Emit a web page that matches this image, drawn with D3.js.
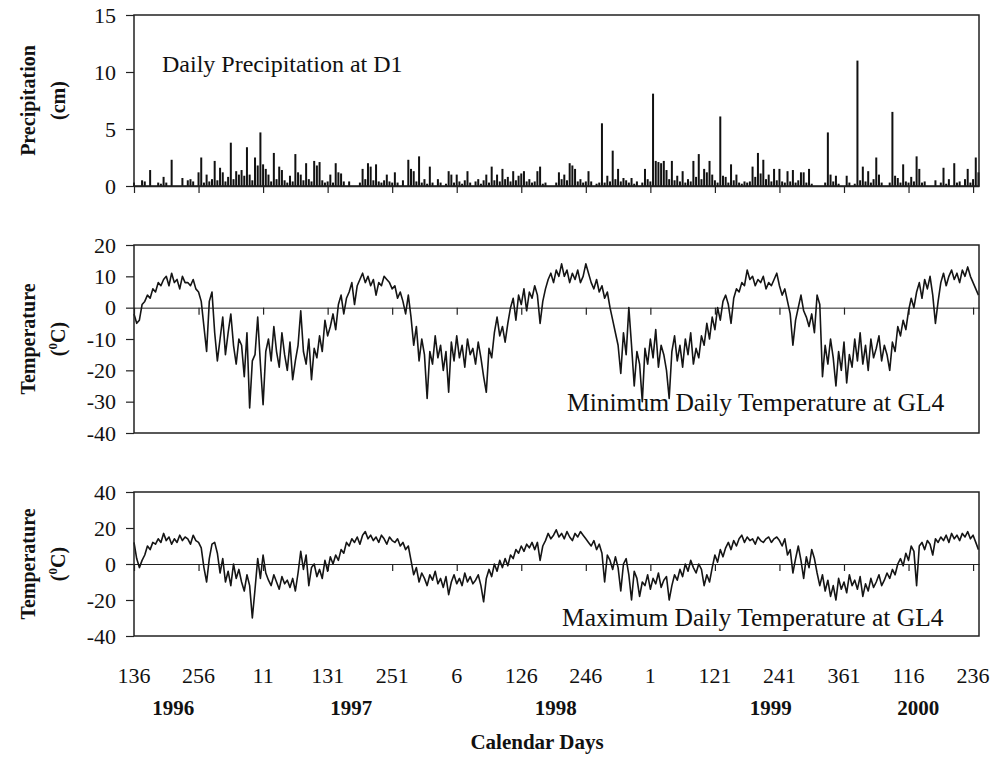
<!DOCTYPE html>
<html>
<head>
<meta charset="utf-8">
<script src="https://cdn.jsdelivr.net/npm/d3@7"></script>
<style>
body { margin: 0; background: #fff; }
text { font-family: "Liberation Serif", "Times New Roman", serif; fill: #111; }
</style>
</head>
<body>
<div id="chart"></div>
<script>
// one value per 5-day step, starting at calendar day 136 of 1996
var STEP_DAYS = 5;

var precip_cm = [
	0.3, 0, 0, 0.5, 0.4, 0, 1.4, 0, 0, 0.3,
	0.2, 0.8, 0.3, 0, 2.3, 0, 0, 0, 0.7, 0,
	0.5, 0.6, 0.4, 0, 1.2, 2.5, 0.3, 1.0, 0.4, 0.6,
	2.2, 0.5, 1.6, 1.2, 0.4, 0.8, 3.8, 0.6, 1.3, 1.0,
	1.4, 0.9, 3.4, 1.0, 0.5, 2.5, 1.8, 4.7, 1.9, 1.5,
	1.0, 0.4, 2.9, 0.6, 1.7, 1.4, 0.5, 0.3, 0.9, 0.4,
	2.8, 1.2, 1.0, 0.5, 2.0, 0.6, 0.4, 2.2, 1.8, 2.1,
	0.5, 0.3, 0.4, 1.0, 0.3, 2.0, 1.2, 1.1, 0.4, 0,
	0.4, 0, 0, 0, 0.3, 1.5, 0.6, 2.0, 1.7, 0.5,
	1.9, 0.4, 0.3, 0.5, 1.0, 0.4, 0.3, 1.2, 0.3, 0,
	0.5, 0, 2.3, 1.5, 1.3, 0.4, 2.6, 0.3, 0.6, 0.2,
	1.7, 0.3, 0, 0.6, 0.3, 0, 0.2, 1.3, 1.0, 0.3,
	1.0, 0.4, 0.2, 0.5, 1.3, 0.3, 0, 0.4, 0.6, 0.2,
	0.5, 1.0, 0.3, 1.7, 0.5, 1.0, 0.4, 1.5, 0.6, 0.8,
	0.4, 1.3, 0.5, 0.9, 1.1, 1.3, 0.4, 0.6, 0.3, 0.4,
	1.3, 1.7, 0.2, 0.3, 0, 0, 0, 0.3, 1.2, 0.6,
	1.0, 0.5, 2.0, 1.8, 1.5, 0.4, 0.6, 0.3, 0.4, 1.3,
	0.4, 0, 0.2, 0.3, 5.5, 0.3, 0.9, 0.4, 3.1, 0.6,
	1.5, 0.4, 0.7, 0.5, 0.3, 0.7, 0.2, 0.4, 0, 0.3,
	1.5, 0.6, 0.4, 8.1, 2.2, 2.1, 2.0, 2.2, 1.4, 0.6,
	2.2, 0.5, 0.9, 0.4, 1.3, 0.3, 0.6, 0.4, 2.2, 0.8,
	2.8, 0.6, 1.5, 1.2, 2.2, 1.0, 0.5, 0.3, 6.1, 0.9,
	0.8, 0.3, 1.9, 0.5, 1.0, 0.3, 0.2, 0.4, 0.3, 0.4,
	1.7, 0.8, 2.9, 1.1, 2.3, 0.6, 1.0, 0.4, 1.5, 0.5,
	1.5, 0.4, 0.3, 1.3, 0.4, 1.4, 0.3, 0.5, 1.2, 1.2,
	0.3, 1.5, 0.2, 0, 0, 0, 0, 0.3, 4.7, 1.0,
	0.4, 0.9, 0.2, 0, 0, 0.9, 0.3, 0, 0.2, 11.0,
	0.5, 1.7, 0.4, 1.3, 0.3, 0.6, 2.5, 1.0, 0.3, 0,
	0, 0.3, 6.5, 0.9, 0.7, 0.3, 1.9, 0.4, 0.3, 0.8,
	0.4, 2.6, 1.5, 0.3, 0.4, 0, 0, 0, 0.5, 0,
	0.3, 1.6, 0.2, 0.6, 0, 2.0, 0.3, 0.4, 0, 0.6,
	1.5, 0.3, 0.6, 2.5, 1.2
];

var min_temp_c = [
	-2, -5, -4, 1, 2, 4, 3, 6, 5, 8,
	7, 9, 10, 7, 11, 8, 9, 6, 10, 8,
	8, 7, 9, 6, 5, 2, -6, -14, 2, 5,
	-8, -17, -10, -3, -15, -8, -2, -12, -18, -10,
	-12, -22, -8, -32, -17, -15, -3, -18, -31, -14,
	-10, -17, -6, -14, -19, -8, -15, -20, -11, -23,
	-17, -12, -1, -14, -18, -10, -23, -13, -16, -9,
	-14, -4, -9, -6, -2, -7, 1, 4, -2, 3,
	5, 8, 1, 7, 9, 11, 8, 10, 7, 9,
	4, 8, 7, 10, 9, 8, 6, 7, 3, 5,
	2, -2, 4, -3, -12, -6, -17, -10, -15, -29,
	-14, -18, -9, -16, -12, -20, -14, -27, -11, -17,
	-9, -16, -12, -19, -10, -15, -13, -18, -11, -16,
	-22, -27, -13, -16, -8, -3, -9, -6, -11, -5,
	0, 3, -4, 4, 1, 6, -1, 5, 3, 7,
	4, -5, 2, 6, 9, 11, 8, 12, 10, 14,
	10, 12, 8, 11, 9, 12, 8, 10, 14, 11,
	8, 6, 9, 5, 7, 3, 5, 0, -4, -8,
	-12, -21, -8, -15, 0, -12, -25, -14, -18, -30,
	-13, -18, -10, -16, -7, -19, -12, -15, -20, -29,
	-14, -9, -17, -12, -19, -10, -15, -8, -18, -13,
	-16, -9, -12, -5, -10, -3, -7, 0, -4, 2,
	4, 1, -5, 3, 6, 5, 8, 7, 12, 9,
	10, 7, 9, 8, 10, 6, 8, 7, 9, 11,
	7, 4, 6, 2, -2, -12, -4, 0, 4, -1,
	-3, -6, -2, -8, 4, 1, -22, -12, -18, -10,
	-16, -25, -14, -20, -11, -24, -15, -19, -10, -17,
	-8, -18, -12, -20, -10, -16, -13, -9, -17, -12,
	-15, -20, -11, -14, -6, -9, -4, -7, -1, 3,
	0, 5, 8, 3, 9, 6, 10, 4, -5, 2,
	8, 11, 7, 10, 12, 9, 11, 8, 12, 10,
	13, 10, 8, 6, 4
];

var max_temp_c = [
	12, 3, -2, 2, 5, 10, 8, 12, 11, 14,
	12, 17, 13, 15, 11, 14, 12, 16, 13, 15,
	14, 11, 16, 13, 12, 9, -2, -10, 3, 11,
	12, 6, -5, 3, -10, -4, -12, 0, -8, -3,
	-10, -15, -6, -12, -30, -14, 3, -8, 5, -5,
	-9, -12, -6, -10, -14, -7, -11, -9, -13, -8,
	-15, -5, 7, -3, 5, -12, -2, 0, -7, -3,
	-8, 2, -4, 4, 0, 5, 2, 8, 6, 12,
	10, 14, 12, 15, 11, 16, 18, 14, 16, 13,
	15, 12, 16, 14, 11, 15, 13, 12, 14, 10,
	12, 8, 10, 2, -6, -2, -10, -5, -8, -12,
	-6, -9, -4, -11, -8, -13, -7, -17, -10, -6,
	-11, -8, -12, -5, -10, -7, -11, -9, -6, -12,
	-21, -8, -3, -7, 0, -4, 2, -2, 3, -1,
	5, 3, 8, 6, 10, 7, 11, 9, 12, 8,
	12, 2, 10, 13, 17, 14, 16, 19, 15, 17,
	14, 18, 15, 13, 17, 15, 18, 16, 14, 12,
	10, 13, 8, 11, 6, -10, 5, 2, -3, 4,
	-2, -15, 0, 3, -6, -20, -4, -8, -18, -10,
	-12, -6, -14, -8, -11, -5, -13, -9, -7, -20,
	-12, -6, -9, -3, -7, 0, -4, 2, -2, -5,
	0, -3, -12, -6, -10, -2, 5, 1, 8, 4,
	9, 12, 8, 13, 10, 14, 16, 12, 15, 13,
	14, 11, 15, 13, 12, 14, 15, 12, 14, 15,
	13, 10, 14, 5, 8, -5, 3, 10, 2, -8,
	4, -2, 8, 3, -5, -12, -6, -15, -9, -18,
	-12, -20, -8, -14, -10, -16, -6, -12, -9, -14,
	-7, -18, -11, -15, -8, -13, -10, -6, -12, -9,
	-5, -8, -3, -6, 0, 3, -1, 6, 2, 10,
	7, -12, 10, 12, 8, 13, 11, 5, 14, 12,
	15, 13, 16, 12, 17, 14, 16, 13, 17, 15,
	18, 14, 16, 12, 8
];

// x axis: days counted from day 136 of 1996, a tick every 120 days
var tick_days = [0, 120, 240, 360, 480, 600, 720, 840, 960, 1080, 1200, 1320, 1440, 1560];
var tick_labels = ["136", "256", "11", "131", "251", "6", "126", "246", "1", "121", "241", "361", "116", "236"];
var year_labels = ["1996", "1997", "1998", "1999", "2000"];
var year_days = [73, 404, 784, 1184, 1458];
var last_day = 1571;

var precip_ticks = [0, 5, 10, 15];
var tmin_ticks = [-40, -30, -20, -10, 0, 10, 20];
var tmax_ticks = [-40, -20, 0, 20, 40];

var SERIF = '"Liberation Serif", "Times New Roman", serif';

var width = 995,
	height = 757;

var svg = d3.select("#chart").append("svg")
	.attr("width", width)
	.attr("height", height)
	.attr("font-family", SERIF);

var x = d3.scaleLinear().domain([0, last_day]).range([134, 979]);

var panels = [
	{ top: 15, bottom: 186, domain: [0, 15], ticks: precip_ticks, title: "Precipitation", unit: "(cm)",
		note: "Daily Precipitation at D1", noteX: 162, noteY: 72, noteSize: 24 },
	{ top: 245, bottom: 433, domain: [-40, 20], ticks: tmin_ticks, title: "Temperature", unit: "C",
		note: "Minimum Daily Temperature at GL4", noteX: 567, noteY: 411, noteSize: 25.5, series: min_temp_c },
	{ top: 492, bottom: 636, domain: [-40, 40], ticks: tmax_ticks, title: "Temperature", unit: "C",
		note: "Maximum Daily Temperature at GL4", noteX: 562, noteY: 626, noteSize: 25.5, series: max_temp_c }
];

panels.forEach(function(p, k) {
	var y = d3.scaleLinear().domain(p.domain).range([p.bottom, p.top]);
	var g = svg.append("g").attr("class", "panel");

	// y axis, ticks pointing out to the left
	var yAxis = g.append("g")
		.attr("transform", "translate(" + x.range()[0] + ",0)")
		.call(d3.axisLeft(y).tickValues(p.ticks).tickSize(8).tickPadding(10).tickFormat(d3.format("d")));
	yAxis.attr("font-family", SERIF).attr("font-size", 22);
	yAxis.select(".domain").remove();
	yAxis.selectAll(".tick line").attr("stroke", "#222").attr("stroke-width", 1.2);
	yAxis.selectAll(".tick text")
		.attr("fill", "#111")
		.text(function(d) { return d < 0 ? "-" + Math.abs(d) : d; });

	// x axis drawn where y = 0
	var xAxis = g.append("g")
		.attr("transform", "translate(0," + y(0) + ")")
		.call(d3.axisBottom(x).tickValues(tick_days).tickSize(7).tickSizeOuter(0).tickFormat(""));
	xAxis.select(".domain").attr("stroke", "#222").attr("stroke-width", k == 0 ? 1.6 : 1);
	xAxis.selectAll(".tick line").attr("stroke", "#222").attr("stroke-width", 1.2);

	if (k == 0) {
		g.selectAll("rect.bar")
			.data(precip_cm)
			.enter()
			.append("rect")
			.attr("class", "bar")
			.attr("x", function(d, i) { return x(i * STEP_DAYS) - 1; })
			.attr("width", 2)
			.attr("y", function(d) { return y(d); })
			.attr("height", function(d) { return y(0) - y(d); })
			.attr("fill", "#111");
	} else {
		var line = d3.line()
			.x(function(d, i) { return x(i * STEP_DAYS); })
			.y(function(d) { return y(d); });
		g.append("path")
			.datum(p.series)
			.attr("d", line)
			.attr("fill", "none")
			.attr("stroke", "#151515")
			.attr("stroke-width", 1.6)
			.attr("stroke-linejoin", "round");
	}

	// frame
	g.append("rect")
		.attr("x", x.range()[0])
		.attr("y", p.top)
		.attr("width", x.range()[1] - x.range()[0])
		.attr("height", p.bottom - p.top)
		.attr("fill", "none")
		.attr("stroke", "#222")
		.attr("stroke-width", 1.5);

	g.append("text")
		.attr("x", p.noteX)
		.attr("y", p.noteY)
		.attr("font-size", p.noteSize)
		.text(p.note);

	// rotated axis title, two lines
	var mid = (p.top + p.bottom) / 2;
	g.append("text")
		.attr("transform", "translate(35," + mid + ") rotate(-90)")
		.attr("text-anchor", "middle")
		.attr("font-size", 20)
		.attr("font-weight", "bold")
		.text(p.title);
	var unit = g.append("text")
		.attr("transform", "translate(65," + mid + ") rotate(-90)")
		.attr("text-anchor", "middle")
		.attr("font-size", 20)
		.attr("font-weight", "bold");
	if (p.unit == "C") {
		unit.append("tspan").text("(");
		unit.append("tspan").attr("dy", -8).attr("font-size", 13).text("0");
		unit.append("tspan").attr("dy", 8).text("C)");
	} else {
		unit.text(p.unit);
	}
});

// calendar day labels under the last panel
svg.selectAll("text.daylabel")
	.data(tick_days)
	.enter()
	.append("text")
	.attr("class", "daylabel")
	.attr("x", function(d) { return x(d); })
	.attr("y", 683)
	.attr("text-anchor", "middle")
	.attr("font-size", 22)
	.text(function(d, i) { return tick_labels[i]; });

svg.selectAll("text.year")
	.data(year_days)
	.enter()
	.append("text")
	.attr("class", "year")
	.attr("x", function(d) { return x(d); })
	.attr("y", 715)
	.attr("text-anchor", "middle")
	.attr("font-size", 21)
	.attr("font-weight", "bold")
	.text(function(d, i) { return year_labels[i]; });

svg.append("text")
	.attr("x", 537)
	.attr("y", 749)
	.attr("text-anchor", "middle")
	.attr("font-size", 21)
	.attr("font-weight", "bold")
	.text("Calendar Days");
</script>
</body>
</html>
